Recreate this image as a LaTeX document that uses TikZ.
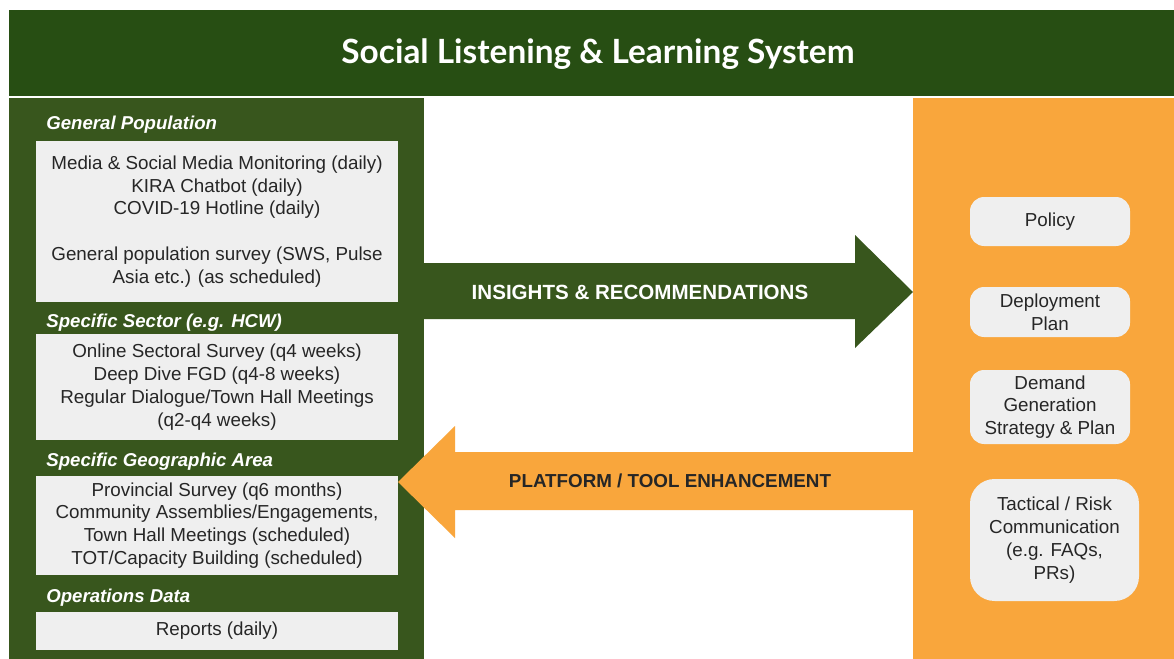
\documentclass[tikz,border=0pt]{standalone}
\usepackage{fontspec}
\setmainfont{Liberation Sans}
\newfontfamily\titlefont{Lato}
\definecolor{titlegreen}{HTML}{274E13}
\definecolor{panelgreen}{HTML}{38561D}
\definecolor{panelorange}{HTML}{F9A63C}
\definecolor{boxgray}{HTML}{EFEFEF}
\tikzset{
  srcbox/.style={fill=boxgray, draw=none, inner sep=0pt, align=center,
    font=\fontsize{10.7}{13}\selectfont, text=black!85},
  sectlabel/.style={anchor=west, inner sep=0pt, text=white,
    font=\fontsize{10.6}{12}\selectfont\bfseries\itshape},
  outbox/.style={fill=boxgray, draw=none, rounded corners=8pt, inner sep=0pt,
    align=center, font=\fontsize{10.7}{13}\selectfont, text=black!85},
  arrowlabel/.style={inner sep=0pt, font=\fontsize{10.7}{12}\selectfont\bfseries}
}
\begin{document}
\begin{tikzpicture}[x=0.02cm,y=-0.02cm]
\useasboundingbox (0,0) rectangle (1174,659);
\fill[white] (0,0) rectangle (1174,659);
% title banner
\fill[titlegreen] (9,10) rectangle (1174,96);
\node[text=white, font=\titlefont\fontsize{19}{21}\selectfont\bfseries] (title) at (598,54) {Social Listening \& Learning System};
% panels
\fill[panelgreen] (9,98) rectangle (424,659);
\fill[panelorange] (913,98) rectangle (1174,659);
% left boxes
\node[sectlabel] (lab1) at (46,125) {General Population};
\node[srcbox, minimum width=362*0.02cm, minimum height=161*0.02cm] (gp) at (217,221.5)
  {Media \& Social Media Monitoring (daily)\\ KIRA Chatbot (daily)\\ COVID-19 Hotline (daily)\\[13pt]
   General population survey (SWS, Pulse\\ Asia etc.) (as scheduled)};
\node[sectlabel] (lab2) at (46,323) {Specific Sector (e.g. HCW)};
\node[srcbox, minimum width=362*0.02cm, minimum height=106*0.02cm] (ss) at (217,387)
  {Online Sectoral Survey (q4 weeks)\\ Deep Dive FGD (q4-8 weeks)\\ Regular Dialogue/Town Hall Meetings\\ (q2-q4 weeks)};
\node[sectlabel] (lab3) at (46,462) {Specific Geographic Area};
\node[srcbox, minimum width=362*0.02cm, minimum height=99*0.02cm] (ga) at (217,525.5)
  {Provincial Survey (q6 months)\\ Community Assemblies/Engagements,\\ Town Hall Meetings (scheduled)\\ TOT/Capacity Building (scheduled)};
\node[sectlabel] (lab4) at (46,598) {Operations Data};
\node[srcbox, minimum width=362*0.02cm, minimum height=38*0.02cm] (od) at (217,631) {Reports (daily)};
% right boxes
\node[outbox, minimum width=160*0.02cm, minimum height=49*0.02cm] (policy) at (1050,221.5) {Policy};
\node[outbox, minimum width=160*0.02cm, minimum height=50*0.02cm] (deploy) at (1050,312) {Deployment\\ Plan};
\node[outbox, minimum width=160*0.02cm, minimum height=74*0.02cm] (demand) at (1050,407) {Demand\\ Generation\\ Strategy \& Plan};
\node[outbox, rounded corners=14pt, minimum width=169*0.02cm, minimum height=122*0.02cm] (tactical) at (1054.5,540) {Tactical / Risk\\ Communication\\ (e.g. FAQs,\\ PRs)};
% block arrows
\coordinate (ga1) at (424,263);
\coordinate (ga2) at (913,292);
\fill[panelgreen] (ga1) -- (855,263) -- (855,235) -- (ga2) -- (855,348) -- (855,319) -- (424,319) -- cycle;
\node[arrowlabel, text=white, font=\fontsize{11.7}{13}\selectfont\bfseries] (insights) at (640,292) {INSIGHTS \& RECOMMENDATIONS};
\coordinate (oa1) at (913,452);
\coordinate (oa2) at (398,482);
\fill[panelorange] (oa1) -- (455,452) -- (455,426) -- (oa2) -- (455,538) -- (455,510) -- (913,510) -- cycle;
\node[arrowlabel, text=black!85] (platform) at (670,481) {PLATFORM / TOOL ENHANCEMENT};
\end{tikzpicture}
\end{document}
